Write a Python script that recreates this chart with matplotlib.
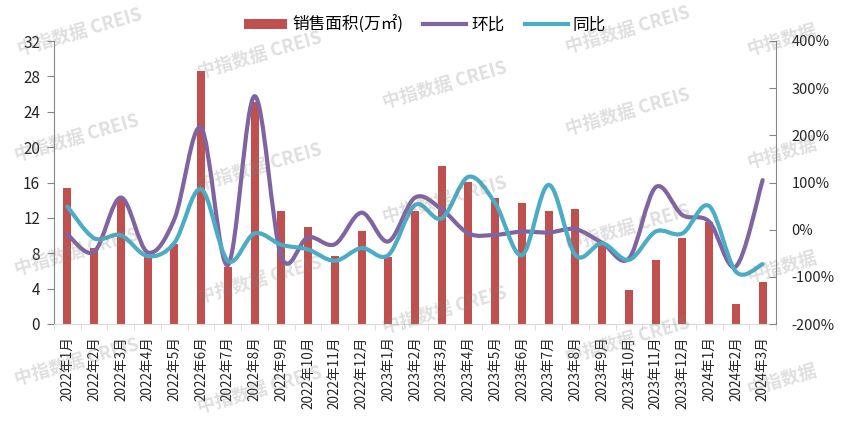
import numpy as np
import matplotlib
matplotlib.use("Agg")
import matplotlib.pyplot as plt
from matplotlib.path import Path
from matplotlib.patches import PathPatch, Patch
from matplotlib.lines import Line2D

plt.rcParams['font.family'] = ['Noto Sans CJK SC', 'DejaVu Sans']

months = ["2022年1月", "2022年2月", "2022年3月", "2022年4月", "2022年5月", "2022年6月",
          "2022年7月", "2022年8月", "2022年9月", "2022年10月", "2022年11月", "2022年12月",
          "2023年1月", "2023年2月", "2023年3月", "2023年4月", "2023年5月", "2023年6月",
          "2023年7月", "2023年8月", "2023年9月", "2023年10月", "2023年11月", "2023年12月",
          "2024年1月", "2024年2月", "2024年3月"]
# 销售面积 (万㎡)
area = [15.4, 8.55, 14.0, 7.6, 9.0, 28.65, 6.5, 25.1, 12.8, 11.0, 7.7, 10.5, 7.6,
        12.8, 17.9, 16.1, 14.2, 13.65, 12.8, 13.0, 8.9, 3.85, 7.25, 9.7, 11.5, 2.26, 4.8]
# 环比 (%)
mom = [-10, -47, 68, -48, 22, 216, -75, 283, -57, -16, -31, 36, -25,
       68, 43, -8, -11, -4, -6, 1, -28, -61, 90, 31, 17, -78, 105]
# 同比 (%)
yoy = [49, -18, -12, -56, -28, 86, -66, -8, -32, -42, -66, -39, -54,
       52, 24, 112, 56, -54, 95, -54, -29, -64, -4, -8, 50, -89, -73]

bar_color = "#C0504D"
mom_color = "#8064A2"
yoy_color = "#4BACC6"


def smooth_path(xs, ys):
    # excel-like smoothed line: catmull-rom turned into cubic bezier segments
    pts = np.column_stack([xs, ys]).astype(float)
    n = len(pts)
    verts = [pts[0]]
    codes = [Path.MOVETO]
    for i in range(n - 1):
        p0 = pts[i - 1] if i > 0 else pts[i]
        p1 = pts[i]
        p2 = pts[i + 1]
        p3 = pts[i + 2] if i + 2 < n else pts[i + 1]
        verts += [p1 + (p2 - p0) / 6, p2 - (p3 - p1) / 6, p2]
        codes += [Path.CURVE4] * 3
    return Path(verts, codes)


W, H = 844, 426
fig = plt.figure(figsize=(W / 100, H / 100), dpi=100)
ax = fig.add_axes([54 / W, 1 - 324 / H, (776 - 54) / W, (324 - 41) / H])
ax2 = ax.twinx()

x = np.arange(len(months))
ax.bar(x, area, width=0.3, color=bar_color, zorder=2)
ax.set_xlim(-0.5, len(months) - 0.5)
ax.set_ylim(0, 32)
ax.set_yticks(range(0, 33, 4))
ax.set_xticks(x)
ax.set_xticklabels(months, rotation=90, fontsize=9.8, color="#262626")
ax.set_xticks(np.arange(-0.5, len(months), 1), minor=True)
ax.tick_params(axis="x", which="major", length=0, pad=9)
ax.tick_params(axis="x", which="minor", length=4, color="#d9d9d9", direction="out")
ax.tick_params(axis="y", length=5, color="#868686", labelsize=11, labelcolor="#262626", pad=5)

ax.spines["top"].set_visible(False)
ax2.spines["top"].set_visible(False)
ax.spines["left"].set_color("#868686")
ax.spines["bottom"].set_color("#d9d9d9")
ax.spines["right"].set_visible(False)
ax2.spines["left"].set_visible(False)
ax2.spines["bottom"].set_visible(False)
ax2.spines["right"].set_color("#868686")

ax2.set_ylim(-200, 400)
ax2.set_yticks(range(-200, 401, 100))
ax2.set_yticklabels([f"{v}%" for v in range(-200, 401, 100)])
ax2.tick_params(axis="y", length=5, direction="in", color="#868686",
                labelsize=10.5, labelcolor="#262626", pad=11)

for vals, col in [(mom, mom_color), (yoy, yoy_color)]:
    ax2.add_patch(PathPatch(smooth_path(x, vals), fill=False, edgecolor=col,
                            lw=3, capstyle="round", joinstyle="round", zorder=3))

handles = [Patch(facecolor=bar_color, edgecolor="none"),
           Line2D([0], [0], color=mom_color, lw=3),
           Line2D([0], [0], color=yoy_color, lw=3)]
fig.legend(handles, ["销售面积(万㎡)", "环比", "同比"], loc="center",
           bbox_to_anchor=(425 / W, 1 - 25 / H), ncol=3, frameon=False,
           fontsize=12, handlelength=2.6, handleheight=0.6, columnspacing=1.2,
           handletextpad=0.3)

# watermark
marks = [(80, 32, "中指数据 CREIS"), (77, 138, "中指数据 CREIS"),
         (77, 252, "中指数据 CREIS"), (77, 362, "中指数据 CREIS"),
         (260, 55, "中指数据 CREIS"), (260, 167, "中指数据 CREIS"),
         (260, 280, "中指数据 CREIS"), (260, 390, "中指数据 CREIS"),
         (445, 85, "中指数据 CREIS"), (445, 200, "中指数据 CREIS"),
         (445, 310, "中指数据 CREIS"),
         (628, 30, "中指数据 CREIS"), (628, 112, "中指数据 CREIS"),
         (628, 228, "中指数据 CREIS"), (628, 340, "中指数据 CREIS"),
         (782, 40, "中指数据"), (782, 153, "中指数据"),
         (782, 267, "中指数据"), (782, 380, "中指数据")]
for px, py, t in marks:
    fig.text(px / W, 1 - py / H, t, rotation=16, fontsize=13,
             fontweight="bold", color="gray", alpha=0.25, ha="center", va="center",
             zorder=10)

fig.savefig("out.png", dpi=100)
